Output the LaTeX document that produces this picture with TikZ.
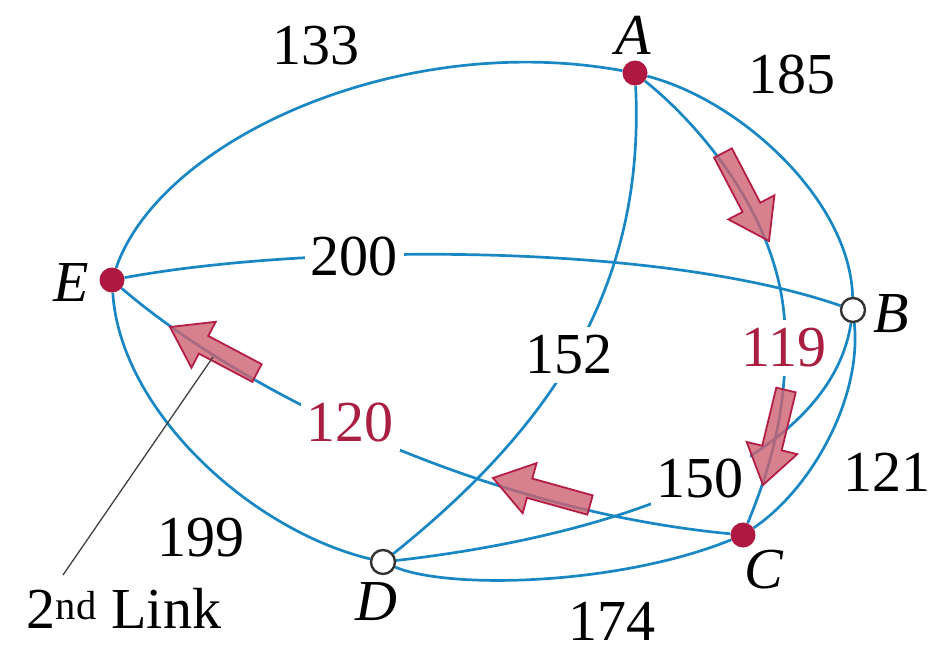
\documentclass[tikz,border=0pt]{standalone}
\usepackage{fontspec}
\setmainfont{Liberation Serif}
\usetikzlibrary{calc}
\definecolor{edgeblue}{RGB}{25,135,195}
\definecolor{nodered}{RGB}{175,25,65}
\definecolor{labred}{RGB}{170,30,65}
\definecolor{arrfill}{RGB}{204,98,112}
\definecolor{arrdraw}{RGB}{180,30,70}
\pgfdeclarelayer{bg}\pgfsetlayers{bg,main}
\newcommand\blockarrow[2]{%
  \coordinate (ba-base) at ($(#2)!38pt!(#1)$);
  \draw[redarrow] ($(#1)!10pt!90:(#2)$) -- ($(ba-base)!10pt!90:(#2)$) -- ($(ba-base)!26pt!90:(#2)$)
    -- (#2) -- ($(ba-base)!26pt!-90:(#2)$) -- ($(ba-base)!10pt!-90:(#2)$) -- ($(#1)!10pt!-90:(#2)$) -- cycle;}
\begin{document}
\begin{tikzpicture}[x=1pt,y=-1pt,
  edge/.style={draw=edgeblue, line width=2.7pt},
  fullnode/.style={circle, fill=nodered, minimum size=25pt, inner sep=0pt},
  opennode/.style={circle, draw=black!80, fill=white, line width=2.4pt, minimum size=24pt, inner sep=0pt},
  vname/.style={font=\fontsize{58}{60}\selectfont\itshape, inner sep=0pt},
  num/.style={font=\fontsize{58}{60}\selectfont, inner sep=0pt},
  gap/.style={fill=white, inner xsep=6pt, inner ysep=9pt},
  redarrow/.style={fill=arrfill, fill opacity=0.8, draw=arrdraw, line width=1.8pt, line join=miter},
  pointer/.style={draw=black!75, line width=1.3pt}]
\useasboundingbox (0,0) rectangle (940,653);
% vertices
\node[fullnode] (A) at (635,73) {};
\node[opennode] (B) at (853,310) {};
\node[fullnode] (C) at (743,535) {};
\node[opennode] (D) at (383,562) {};
\node[fullnode] (E) at (112,280) {};
\coordinate (ac) at (785,330);
% edges
\begin{pgfonlayer}{bg}
\draw[edge] (E) .. controls (160,140) and (400,30) .. (A);
\draw[edge] (E) .. controls (300,245) and (650,240) .. (B);
\draw[edge] (E) .. controls (120,410) and (250,530) .. (D);
\draw[edge] (E) .. controls (240,390) and (480,510) .. (C);
\draw[edge] (A) .. controls (740,100) and (850,200) .. (B);
\draw[edge] (A) .. controls (700,125) and (782,220) .. (ac) .. controls (788,420) and (765,480) .. (C);
\draw[edge] (A) .. controls (645,280) and (560,420) .. (D);
\draw[edge] (B) .. controls (862,400) and (810,490) .. (C);
\draw[edge] (D) .. controls (620,535) and (830,460) .. (B);
\draw[edge] (D) .. controls (450,590) and (620,585) .. (C);
\end{pgfonlayer}
% vertex names
\node[vname] (lA) at (633,35) {A};
\node[vname] (lB) at (891,314) {B};
\node[vname] (lC) at (764,570) {C};
\node[vname] (lD) at (376,602) {D};
\node[vname] (lE) at (71,283) {E};
% weights
\node[num] (w133) at (316,46) {133};
\node[num] (w185) at (792,74) {185};
\node[num,gap] (w200) at (354,256) {200};
\node[num,gap] (w152) at (569,355) {152};
\node[num,gap,text=labred,inner xsep=3pt] (w119) at (784,348) {119};
\node[num,gap,text=labred] (w120) at (350,422) {120};
\node[num,gap] (w150) at (700,478) {150};
\node[num] (w121) at (887,472) {121};
\node[num] (w199) at (201,538) {199};
\node[num] (w174) at (612,621) {174};
% route arrows
\coordinate (t1) at (723,153); \coordinate (h1) at (769,241);
\coordinate (t2) at (786,390); \coordinate (h2) at (763,485);
\coordinate (t3) at (590,505); \coordinate (h3) at (493,478);
\coordinate (t4) at (257,373); \coordinate (h4) at (170,327);
\blockarrow{t1}{h1}
\blockarrow{t2}{h2}
\blockarrow{t3}{h3}
\blockarrow{t4}{h4}
% second link pointer
\node[num] (link) at (124,608) {2\textsuperscript{nd} Link};
\coordinate (lkA) at (63,575);
\coordinate (lkB) at (213,357);
\draw[pointer] (lkA) -- (lkB);
\end{tikzpicture}
\end{document}
